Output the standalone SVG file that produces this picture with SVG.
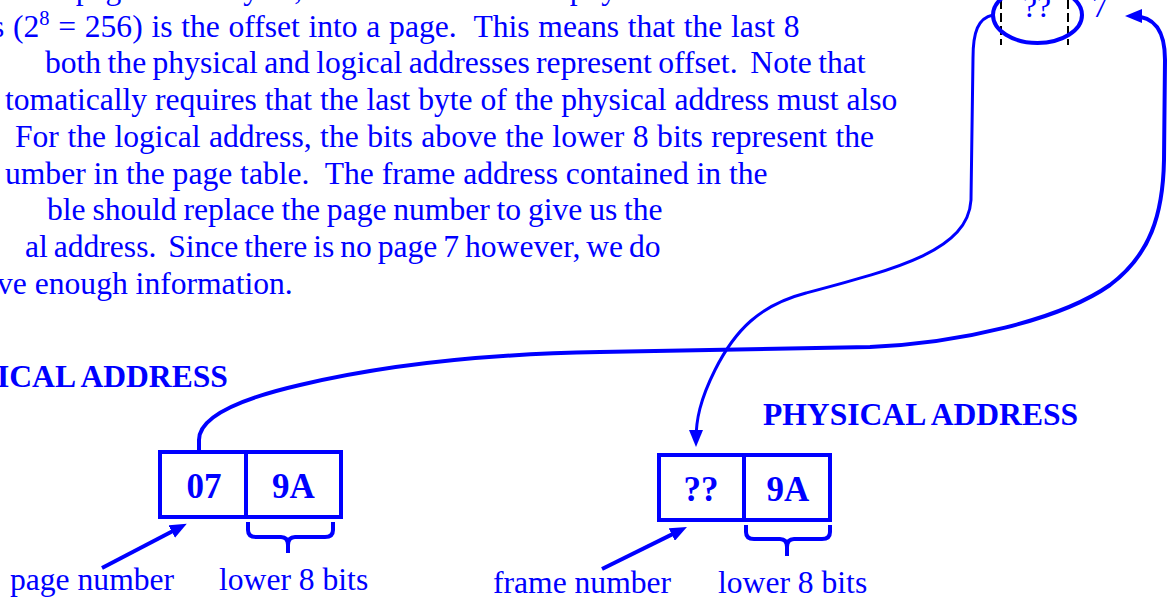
<svg xmlns="http://www.w3.org/2000/svg" width="1168" height="602" viewBox="0 0 1168 602">
<style>
.t{font-family:"Liberation Serif","Times New Roman",serif;font-size:31.6px;fill:#0000FF;white-space:pre}
.b{font-weight:bold}
.bx{font-family:"Liberation Serif","Times New Roman",serif;font-size:35px;font-weight:bold;fill:#0000FF}
.box{fill:none;stroke:#0000FF;stroke-width:4}
.ln{fill:none;stroke:#0000FF;stroke-width:4}
.ln3{fill:none;stroke:#0000FF;stroke-width:3}
.dash{fill:none;stroke:#000;stroke-width:2;stroke-dasharray:9 4}
</style>
<defs>
<marker id="ah" viewBox="0 0 17 14" refX="10" refY="7" markerWidth="17" markerHeight="14" markerUnits="userSpaceOnUse" orient="auto">
<path d="M0,0 L17,7 L0,14 z" fill="#0000FF"/>
</marker>
</defs>
<rect width="1168" height="602" fill="#fff"/>
<g id="paragraph">
<text class="t" x="675" y="-0.8" text-anchor="end">e size of a page is 256 bytes, the lower 8 bits of a physical</text>
<text class="t" x="-8" y="36.5" word-spacing="0.8">s (2<tspan font-size="20.5px" dy="-12">8</tspan><tspan dy="12"> = 256) is the offset into a page.  This means that the last 8</tspan></text>
<text class="t" x="45" y="73.3" word-spacing="-1.5">both the physical and logical addresses represent offset.  Note that</text>
<text class="t" x="5" y="110">tomatically requires that the last byte of the physical address must also</text>
<text class="t" x="15" y="146.8" word-spacing="0.6">For the logical address, the bits above the lower 8 bits represent the</text>
<text class="t" x="5" y="183.5">umber in the page table.  The frame address contained in the</text>
<text class="t" x="47" y="220.3" word-spacing="-1.1">ble should replace the page number to give us the</text>
<text class="t" x="25" y="257" word-spacing="-2">al address.  Since there is no page 7 however, we do</text>
<text class="t" x="-3" y="293.8">ve enough information.</text>
</g>
<g id="page-table">
<line class="dash" x1="1001" y1="0" x2="1001" y2="45"/>
<line class="dash" x1="1068" y1="0" x2="1068" y2="45"/>
<text class="t" x="1037" y="17" text-anchor="middle">??</text>
<text class="t" x="1092" y="17">7</text>
<ellipse class="ln" cx="1037.5" cy="15" rx="44.5" ry="28"/>
</g>
<g id="logical-address">
<text class="t b" x="-3" y="387">ICAL ADDRESS</text>
<rect class="box" x="160" y="452" width="181" height="65"/>
<line class="box" x1="246" y1="452" x2="246" y2="517"/>
<text class="bx" x="204" y="498" text-anchor="middle">07</text>
<text class="bx" x="293.5" y="498" text-anchor="middle">9A</text>
<path class="ln" d="M248 522 L248 530 Q248 537 256 537 L281 537 Q288 537 288 545 L288 553 M288 545 Q288 537 295 537 L325 537 Q333 537 333 530 L333 522"/>
<text class="t" x="10" y="590">page number</text>
<text class="t" x="219" y="590">lower 8 bits</text>
</g>
<g id="physical-address">
<text class="t b" x="763" y="425">PHYSICAL ADDRESS</text>
<rect class="box" x="659" y="455" width="171" height="65"/>
<line class="box" x1="744" y1="455" x2="744" y2="520"/>
<text class="bx" x="701" y="501" text-anchor="middle">??</text>
<text class="bx" x="788" y="501" text-anchor="middle">9A</text>
<path class="ln" d="M746 525 L746 532 Q746 539 754 539 L780 539 Q787 539 787 547 L787 556 M787 547 Q787 539 794 539 L822 539 Q830 539 830 532 L830 525"/>
<text class="t" x="493" y="593">frame number</text>
<text class="t" x="718" y="593">lower 8 bits</text>
</g>
<g id="connectors">
<path class="ln" marker-end="url(#ah)" d="M102 568 L180.6 527"/>
<path class="ln" marker-end="url(#ah)" d="M602 569 L680.7 530.1"/>
<path class="ln" marker-end="url(#ah)" d="M199 451 L199 440 C199 418 235 400 300 385 C380 366 480 354 600 352 L870 347 C960 343 1060 320 1110 285 C1150 255 1163 215 1164 160 L1165 60 C1165 32 1156 16 1132 16"/>
<path class="ln3" marker-end="url(#ah)" d="M993 15 C978 18 973 32 973 58 L971 200 C968 250 900 268 806 293 C760 305 735 330 715 370 C700 400 696 420 696 440"/>
</g>
</svg>
